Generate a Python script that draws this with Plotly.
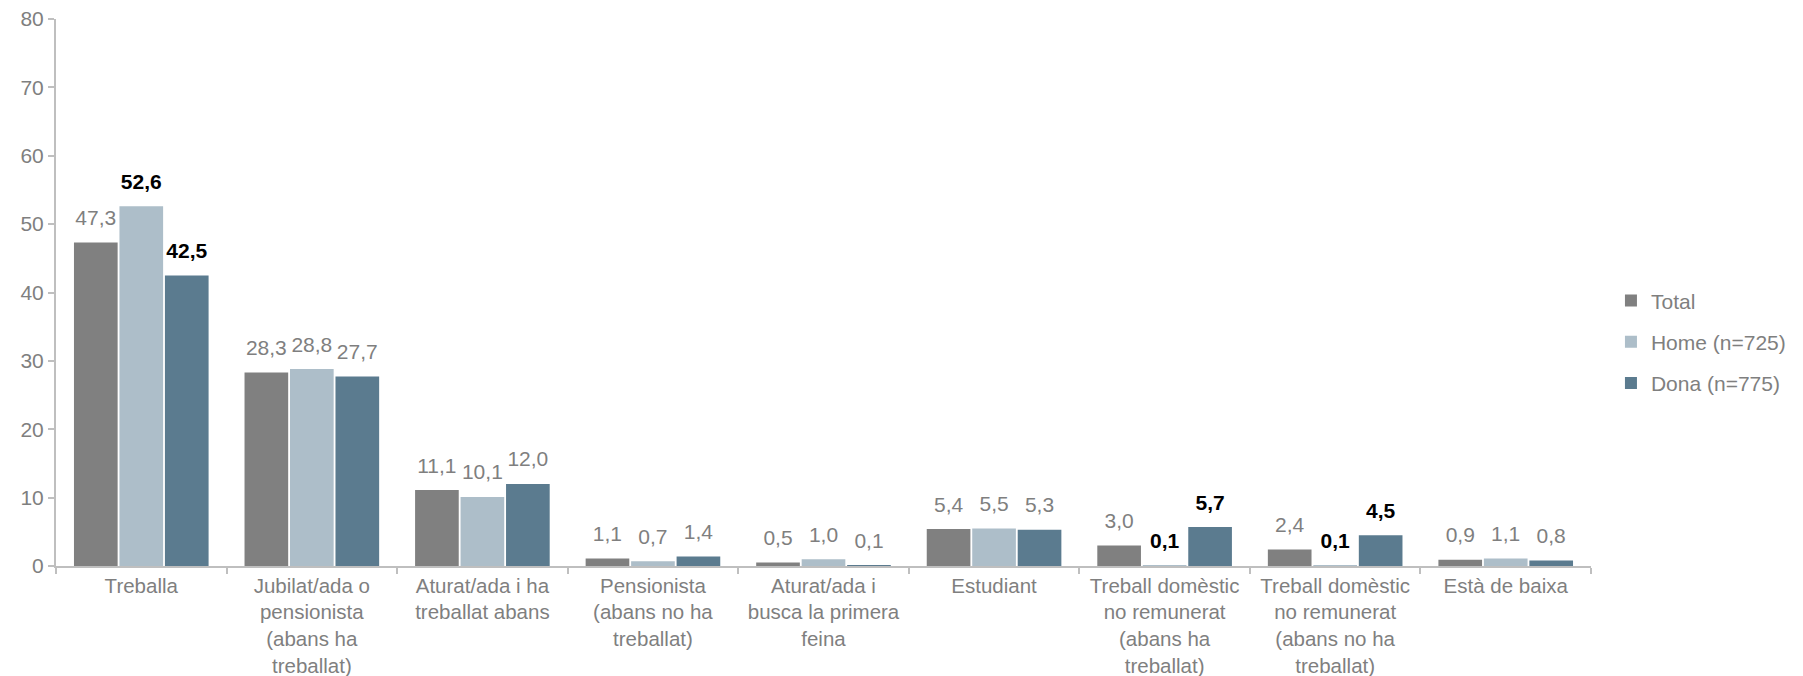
import plotly.graph_objects as go

categories = [
    "Treballa",
    "Jubilat/ada o<br>pensionista<br>(abans ha<br>treballat)",
    "Aturat/ada i ha<br>treballat abans",
    "Pensionista<br>(abans no ha<br>treballat)",
    "Aturat/ada i<br>busca la primera<br>feina",
    "Estudiant",
    "Treball domèstic<br>no remunerat<br>(abans ha<br>treballat)",
    "Treball domèstic<br>no remunerat<br>(abans no ha<br>treballat)",
    "Està de baixa",
]
total = [47.3, 28.3, 11.1, 1.1, 0.5, 5.4, 3.0, 2.4, 0.9]
home = [52.6, 28.8, 10.1, 0.7, 1.0, 5.5, 0.1, 0.1, 1.1]
dona = [42.5, 27.7, 12.0, 1.4, 0.1, 5.3, 5.7, 4.5, 0.8]

# which labels are highlighted in bold
total_bold = [False] * 9
home_bold = [True, False, False, False, False, False, True, True, False]
dona_bold = [True, False, False, False, False, False, True, True, False]

series = [
    ("Total", total, total_bold, "#808080"),
    ("Home (n=725)", home, home_bold, "#adbec9"),
    ("Dona (n=775)", dona, dona_bold, "#5b7b8f"),
]

FONT = "Liberation Sans, Arial, sans-serif"
GRAY = "#7f7f7f"
FS = 21

fig = go.Figure()
for i, (name, vals, bold, color) in enumerate(series):
    fig.add_trace(go.Bar(
        x=categories, y=vals, name=name, legendgroup=f"g{i}",
        marker=dict(color=color, line=dict(width=0)),
        hoverinfo="skip",
    ))

for name, vals, bold, color in series:
    texts = []
    colors = []
    for v, b in zip(vals, bold):
        s = f"{v:.1f}".replace(".", ",")
        texts.append(f"<b>{s}</b>" if b else s)
        colors.append("#000000" if b else GRAY)
    fig.add_trace(go.Scatter(
        x=categories, y=vals, mode="markers+text", text=texts,
        textposition="top center",
        textfont=dict(size=FS, color=colors, family=FONT),
        marker=dict(size=18, opacity=0),
        showlegend=False, hoverinfo="skip", cliponaxis=False,
    ))

fig.update_layout(
    width=1803, height=676,
    margin=dict(l=56, r=212, t=19, b=110, autoexpand=False),
    paper_bgcolor="white", plot_bgcolor="white",
    barmode="group", bargap=0.2, bargroupgap=0.04,
    scattermode="group", scattergap=0.2,
    font=dict(family=FONT, size=FS, color=GRAY),
    legend=dict(
        x=1.013, xanchor="left", y=0.41, yanchor="middle",
        font=dict(size=FS, color=GRAY), itemwidth=30,
        tracegroupgap=11, traceorder="grouped",
    ),
    xaxis=dict(
        showline=True, linecolor="#bfbfbf", linewidth=2,
        ticks="outside", tickson="boundaries", ticklen=6, tickcolor="#bfbfbf", tickwidth=2,
        tickfont=dict(size=20.5, color=GRAY), showgrid=False, tickangle=0,
        automargin=False,
    ),
    yaxis=dict(
        range=[0, 80], dtick=10, showline=True, linecolor="#bfbfbf", linewidth=2,
        ticks="outside", ticklen=6, tickcolor="#bfbfbf", tickwidth=2,
        tickfont=dict(size=FS, color=GRAY), showgrid=False, zeroline=False,
        automargin=False,
    ),
)

fig.write_html(
    "out.html",
    config={"displayModeBar": False},
    post_script="document.body.style.margin='0';",
)
